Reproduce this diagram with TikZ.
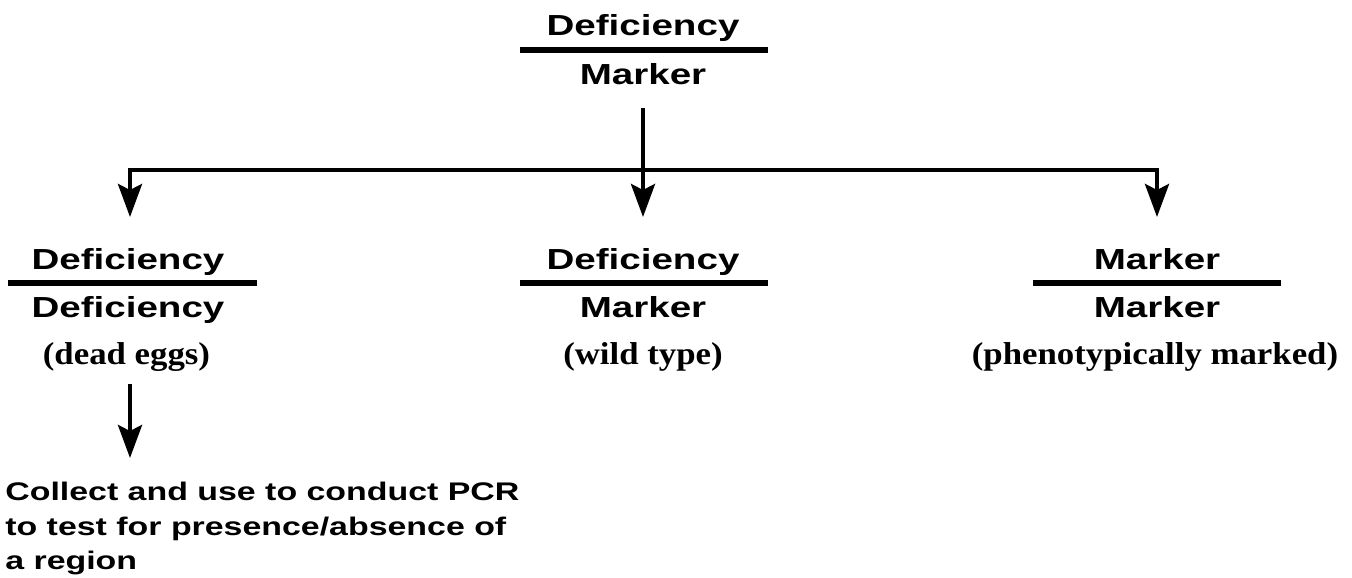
\documentclass[tikz,border=0pt]{standalone}
\usepackage{fontspec}
\setmainfont{Liberation Serif}
\newfontfamily\genofont[FakeStretch=1.33]{Liberation Sans}
\newfontfamily\phenofont[FakeStretch=1.1]{Liberation Serif}
\usetikzlibrary{arrows.meta}

\tikzset{
	allele/.style={font=\genofont\bfseries\fontsize{16.5}{19}\selectfont, inner sep=0pt, anchor=base},
	pheno/.style={font=\phenofont\bfseries\fontsize{18}{21}\selectfont, inner sep=0pt, anchor=base},
	chrbar/.style={line width=3.6pt},
	cross/.style={line width=2.4pt, line join=miter, -{Stealth[length=6.6mm, width=4.8mm, inset=1.2mm]}}
}

\begin{document}
\begin{tikzpicture}
		\useasboundingbox (0, 0) rectangle (27.04, 11.56);
		
		%%%%% PARENT %%%%%
		\node[allele] (p-up) at (12.86, 10.84) {Deficiency};
		\draw[chrbar] (10.4, 10.56) -- (15.36, 10.56);
		\node[allele] (p-lo) at (12.86, 9.86) {Marker};
		
		\coordinate (bus) at (12.86, 8.16);
		\coordinate (dd-in) at (2.6, 7.22);
		\coordinate (dm-in) at (12.86, 7.22);
		\coordinate (mm-in) at (23.14, 7.22);
		
		\draw[cross] (bus) -| (dd-in);
		\draw[cross] (bus) -| (mm-in);
		\draw[cross, shorten <=4.4mm] (p-lo.south) -- (dm-in);
		
		%%%%% OFFSPRING %%%%%
		\node[allele] (dd-up) at (2.56, 6.16) {Deficiency};
		\draw[chrbar] (0.16, 5.9) -- (5.14, 5.9);
		\node[allele] (dd-lo) at (2.56, 5.2) {Deficiency};
		\node[pheno] (dd-note) at (2.53, 4.26) {(dead eggs)};
		
		\node[allele] (dm-up) at (12.86, 6.16) {Deficiency};
		\draw[chrbar] (10.4, 5.9) -- (15.36, 5.9);
		\node[allele] (dm-lo) at (12.86, 5.2) {Marker};
		\node[pheno] (dm-note) at (12.86, 4.26) {(wild type)};
		
		\node[allele] (mm-up) at (23.14, 6.16) {Marker};
		\draw[chrbar] (20.66, 5.9) -- (25.62, 5.9);
		\node[allele] (mm-lo) at (23.14, 5.2) {Marker};
		\node[pheno] (mm-note) at (23.1, 4.26) {(phenotypically marked)};
		
		%%%%% PCR %%%%%
		\coordinate (pcr-in) at (2.6, 2.4);
		\node[font=\genofont\bfseries\fontsize{14.5}{19.6}\selectfont, inner sep=0pt, anchor=north west, align=left] (pcr) at (0.1, 1.92)
			{Collect and use to conduct PCR\\to test for presence/absence of\\a region};
		\draw[cross, shorten <=2.4mm] (dd-note.south -| pcr-in) -- (pcr-in);
		
	\end{tikzpicture}
\end{document}
